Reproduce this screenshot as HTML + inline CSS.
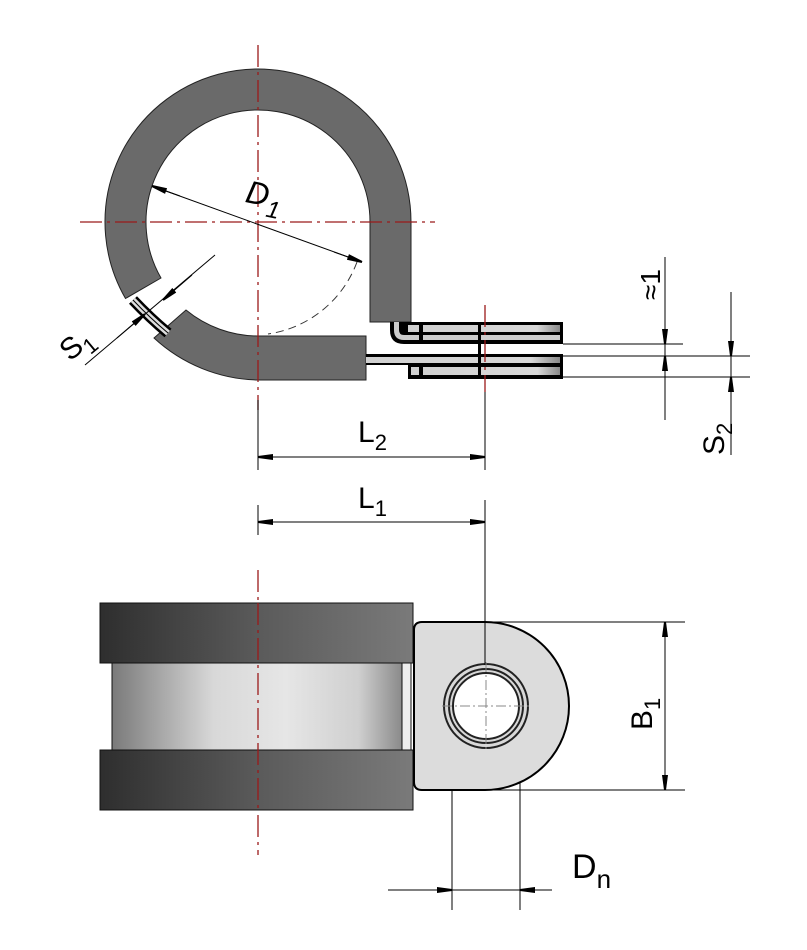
<!DOCTYPE html>
<html><head><meta charset="utf-8"><style>
html,body{margin:0;padding:0;background:#fff;}
svg{display:block;}
text{font-family:"Liberation Sans","DejaVu Sans",sans-serif;fill:#000;}
</style></head><body>
<svg width="807" height="950" viewBox="0 0 807 950" xmlns="http://www.w3.org/2000/svg">
<defs>
<linearGradient id="band" x1="0" x2="1" y1="0" y2="0">
<stop offset="0" stop-color="#2e2e2e"/><stop offset="0.5" stop-color="#5a5a5a"/><stop offset="1" stop-color="#7a7a7a"/></linearGradient>
<linearGradient id="cyl" x1="0" x2="1" y1="0" y2="0">
<stop offset="0" stop-color="#7a7a7a"/><stop offset="0.35" stop-color="#d8d8d8"/><stop offset="0.6" stop-color="#e6e6e6"/><stop offset="0.85" stop-color="#cfcfcf"/><stop offset="1" stop-color="#8a8a8a"/></linearGradient>
<linearGradient id="strip" x1="0" x2="1" y1="0" y2="0">
<stop offset="0" stop-color="#d0d0d0"/><stop offset="0.85" stop-color="#d8d8d8"/><stop offset="1" stop-color="#888"/></linearGradient>
<marker id="ar" markerWidth="16" markerHeight="8" refX="15" refY="4" orient="auto" markerUnits="userSpaceOnUse">
<path d="M0,1 L15,3 L15,5 L0,7 Z" fill="#000"/></marker>
</defs>

<!-- top view rubber -->
<path d="M125.5,298.5 A153,153 0 1 1 411,222 L411,322 L370,322 L370,222 A112,112 0 1 0 161,278 Z" fill="#6a6a6a" stroke="#222" stroke-width="1"/>
<path d="M186,310 A114,114 0 0 0 258,336 L366,336 L366,380 L258,380 A158,158 0 0 1 154,338 Z" fill="#6a6a6a" stroke="#222" stroke-width="1"/>
<!-- strap in gap -->
<path d="M133,300 Q150,318 168,333" stroke="#000" stroke-width="11" fill="none"/>
<path d="M133,300 Q150,318 168,333" stroke="#ddd" stroke-width="6" fill="none"/>
<path d="M133,300 Q150,318 168,333" stroke="#000" stroke-width="1" fill="none"/>
<!-- dashed inner hidden arc -->
<path d="M357,262 A112,112 0 0 1 268,334" stroke="#333" stroke-width="1" stroke-dasharray="8,5" fill="none"/>

<!-- metal strips -->
<path d="M390,322 L390,330 Q390,344 404,344 L563,344 L563,322 Z" fill="#000"/>
<path d="M394,322 L394,330 Q394,340 404,340 L560,340 L560,335 L404,335 Q399,335 399,330 L399,322 Z" fill="#ccc"/>
<rect x="408" y="325" width="152" height="7" fill="url(#strip)"/>
<rect x="366" y="354" width="197" height="11" fill="#000"/>
<rect x="366" y="357" width="194" height="6" fill="url(#strip)"/>
<rect x="408" y="364" width="155" height="15" fill="#000"/>
<rect x="411" y="367" width="149" height="8" fill="url(#strip)"/>
<g fill="#000"><rect x="419" y="322" width="4" height="22"/><rect x="419" y="364" width="4" height="15"/><rect x="478" y="322" width="3" height="57"/></g>

<!-- centerlines -->
<g stroke="#9b1a1a" stroke-width="1.3" stroke-dasharray="22,5,3,5" fill="none">
<line x1="258" y1="45" x2="258" y2="410"/>
<line x1="80" y1="222" x2="435" y2="222"/>
<line x1="485" y1="305" x2="485" y2="392"/>
<line x1="258" y1="570" x2="258" y2="855"/>
</g>

<!-- dimension lines -->
<g stroke="#000" stroke-width="1" fill="none">
<line x1="258" y1="400" x2="258" y2="470"/>
<line x1="485" y1="392" x2="485" y2="470"/>
<line x1="258" y1="505" x2="258" y2="535"/>
<line x1="485" y1="500" x2="485" y2="706"/>
<line x1="258" y1="457" x2="485" y2="457"/>
<line x1="258" y1="522" x2="485" y2="522"/>
<line x1="563" y1="344" x2="683" y2="344"/>
<line x1="563" y1="356" x2="750" y2="356"/>
<line x1="563" y1="377" x2="750" y2="377"/>
<line x1="665" y1="257" x2="665" y2="420"/>
<line x1="731" y1="292" x2="731" y2="455"/>
<line x1="215" y1="255" x2="85" y2="365"/>
<line x1="152" y1="186" x2="362" y2="262"/>
<line x1="484" y1="622" x2="685" y2="622"/>
<line x1="484" y1="790" x2="685" y2="790"/>
<line x1="665" y1="622" x2="665" y2="790"/>
<line x1="452" y1="730" x2="452" y2="910"/>
<line x1="520" y1="730" x2="520" y2="910"/>
<line x1="388" y1="890" x2="535" y2="890"/>
</g>
<!-- arrows -->
<g stroke="#000" stroke-width="1" fill="none">
<line x1="290" y1="457" x2="258" y2="457" marker-end="url(#ar)"/>
<line x1="453" y1="457" x2="485" y2="457" marker-end="url(#ar)"/>
<line x1="290" y1="522" x2="258" y2="522" marker-end="url(#ar)"/>
<line x1="453" y1="522" x2="485" y2="522" marker-end="url(#ar)"/>
<line x1="180" y1="196" x2="152" y2="186" marker-end="url(#ar)"/>
<line x1="334" y1="252" x2="362" y2="262" marker-end="url(#ar)"/>
<line x1="192" y1="275" x2="163" y2="300" marker-end="url(#ar)"/>
<line x1="117" y1="338" x2="145" y2="314" marker-end="url(#ar)"/>
<line x1="665" y1="310" x2="665" y2="344" marker-end="url(#ar)"/>
<line x1="665" y1="390" x2="665" y2="356" marker-end="url(#ar)"/>
<line x1="731" y1="322" x2="731" y2="356" marker-end="url(#ar)"/>
<line x1="731" y1="410" x2="731" y2="377" marker-end="url(#ar)"/>
<line x1="665" y1="655" x2="665" y2="622" marker-end="url(#ar)"/>
<line x1="665" y1="757" x2="665" y2="790" marker-end="url(#ar)"/>
<line x1="420" y1="890" x2="452" y2="890" marker-end="url(#ar)"/>
<line x1="552" y1="890" x2="520" y2="890" marker-end="url(#ar)"/>
</g>

<!-- bottom view -->
<rect x="100" y="603" width="313" height="60" fill="url(#band)" stroke="#111"/>
<rect x="112" y="663" width="290" height="87" fill="url(#cyl)" stroke="#111"/>
<rect x="402" y="663" width="9" height="87" fill="#eee" stroke="#111"/>
<rect x="100" y="750" width="313" height="60" fill="url(#band)" stroke="#111"/>
<line x1="258" y1="603" x2="258" y2="810" stroke="#9b1a1a" stroke-width="1.3" stroke-dasharray="22,5,3,5"/>
<path d="M422,622 L485,622 A84,84 0 0 1 485,790 L422,790 Q414,790 414,782 L414,630 Q414,622 422,622 Z" fill="#dcdcdc" stroke="#000" stroke-width="2"/>
<circle cx="486" cy="706" r="42" fill="#d8d8d8" stroke="#222" stroke-width="2"/>
<circle cx="486" cy="706" r="37" fill="#d8d8d8" stroke="#222" stroke-width="2"/>
<circle cx="486" cy="706" r="33" fill="#fff" stroke="#222" stroke-width="2"/>
<g stroke="#888" stroke-width="1" stroke-dasharray="10,3,2,3">
<line x1="442" y1="706" x2="530" y2="706"/>
<line x1="486" y1="662" x2="486" y2="750"/>
</g>
<line x1="485" y1="622" x2="485" y2="665" stroke="#000"/>

<!-- labels -->
<text x="245" y="205" font-size="32" font-style="italic" transform="rotate(12 260 200)">D<tspan font-size="24" dy="10">1</tspan></text>
<text x="0" y="0" font-size="30" transform="translate(70,362) rotate(-40)">S<tspan font-size="22" dy="8">1</tspan></text>
<text x="0" y="0" font-size="28" transform="translate(660,300) rotate(-90)">≈1</text>
<text x="0" y="0" font-size="30" transform="translate(724,455) rotate(-90)">S<tspan font-size="22" dy="8">2</tspan></text>
<text x="358" y="442" font-size="30">L<tspan font-size="22" dy="8">2</tspan></text>
<text x="358" y="508" font-size="30">L<tspan font-size="22" dy="8">1</tspan></text>
<text x="0" y="0" font-size="30" transform="translate(652,730) rotate(-90)">B<tspan font-size="22" dy="8">1</tspan></text>
<text x="572" y="878" font-size="34">D<tspan font-size="26" dy="10">n</tspan></text>
</svg>
</body></html>
